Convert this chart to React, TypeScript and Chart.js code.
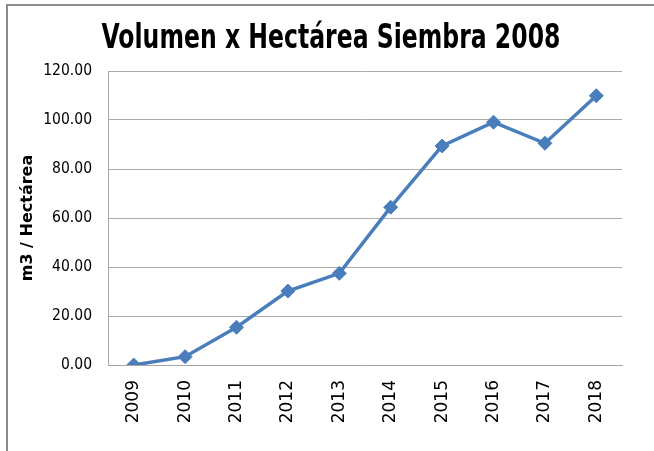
import React, { useEffect, useRef } from "react";
import { Chart, registerables } from "chart.js";

Chart.register(...registerables);

const titleText = "Volumen x Hectárea Siembra 2008";
const yAxisTitle = "m3 / Hectárea";
const years = ["2009", "2010", "2011", "2012", "2013", "2014", "2015", "2016", "2017", "2018"];
const volumes = [0, 3.4, 15.4, 30.2, 37.4, 64.4, 89.4, 99.1, 90.5, 109.9];
const yMin = 0;
const yMax = 120;
const yStep = 20;

export default function App() {
  const ref = useRef<HTMLCanvasElement | null>(null);

  useEffect(() => {
    if (!ref.current) return;
    const chart = new Chart(ref.current, {
      type: "line",
      data: {
        labels: years,
        datasets: [
          {
            data: volumes,
            borderColor: "#4A7EBB",
            backgroundColor: "#4A7EBB",
            borderWidth: 3.5,
            pointStyle: "rectRot",
            pointRadius: 7,
            pointBorderWidth: 1,
            pointBackgroundColor: "#4A7EBB",
            pointBorderColor: "#4A7EBB",
            tension: 0,
          },
        ],
      },
      options: {
        responsive: false,
        animation: false,
        layout: { padding: { left: 14, right: 32, top: 71, bottom: 0 } },
        plugins: {
          legend: { display: false },
          tooltip: { enabled: false },
          title: { display: false },
        },
        scales: {
          x: {
            offset: true,
            grid: { display: false, drawTicks: false },
            border: { display: true, color: "#a6a6a6", width: 1 },
            ticks: {
              color: "#000",
              font: { family: "'DejaVu Sans', sans-serif", size: 17 },
              minRotation: 90,
              maxRotation: 90,
              padding: 15,
              autoSkip: false,
            },
            afterFit: (scale: any) => {
              scale.height = 86;
            },
          },
          y: {
            min: yMin,
            max: yMax,
            grid: { color: "#ababab", lineWidth: 1, drawTicks: false },
            border: { display: true, color: "#a6a6a6", width: 1 },
            ticks: {
              stepSize: yStep,
              color: "#000",
              padding: 16,
              font: { family: "'DejaVu Sans Condensed', sans-serif", size: 15.5 },
              callback: (v: any) => Number(v).toFixed(2),
            },
            title: {
              display: true,
              text: yAxisTitle,
              color: "#000",
              font: { family: "'DejaVu Sans', sans-serif", size: 16, weight: "bold" },
              padding: { top: 4, bottom: 4 },
            },
            afterFit: (scale: any) => {
              scale.width = 94;
            },
          },
        },
      },
    });
    return () => chart.destroy();
  }, []);

  return (
    <div style={{ position: "absolute", left: 0, top: 0, width: 654, height: 451, background: "#fff" }}>
      <canvas ref={ref} width={654} height={451} style={{ position: "absolute", left: 0, top: 0, width: 654, height: 451 }} />
      <div
        style={{
          position: "absolute",
          left: 4,
          top: 19,
          width: 654,
          textAlign: "center",
          fontFamily: "'DejaVu Sans Condensed', sans-serif",
          fontWeight: "bold",
          fontSize: 34,
          lineHeight: "34px",
          color: "#000",
          whiteSpace: "nowrap",
          transform: "scaleX(0.77)",
          transformOrigin: "327px 0",
        }}
      >
        {titleText}
      </div>
      <div
        style={{
          position: "absolute",
          left: 6,
          top: 4,
          right: 0,
          bottom: 0,
          borderTop: "2px solid #8c8c8c",
          borderLeft: "2px solid #8c8c8c",
          pointerEvents: "none",
        }}
      />
    </div>
  );
}
